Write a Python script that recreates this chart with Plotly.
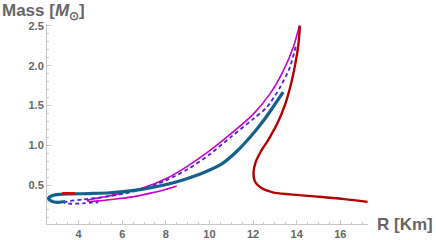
import plotly.graph_objects as go

# ---- data ----
red_R = [14.15, 14.07, 13.92, 13.72, 13.45, 13.12, 12.72, 12.35, 12.12, 12.02, 12.08, 12.35, 12.90, 13.70, 15.00, 16.20, 17.25]
red_M = [2.50, 2.25, 2.00, 1.75, 1.50, 1.28, 1.08, 0.92, 0.79, 0.66, 0.55, 0.47, 0.41, 0.385, 0.355, 0.325, 0.29]

red2_R = [3.23, 3.84]
red2_M = [0.398, 0.398]

blue_R = [13.38, 12.88, 12.42, 11.87, 11.27, 10.58, 9.80, 8.89, 7.97, 6.82, 5.44, 4.50, 3.70, 3.10, 2.80, 2.62, 2.75, 3.05, 3.40]
blue_M = [1.668, 1.467, 1.29, 1.105, 0.93, 0.77, 0.665, 0.575, 0.505, 0.445, 0.405, 0.395, 0.39, 0.385, 0.37, 0.335, 0.30, 0.285, 0.295]

mag_R = [14.13, 13.85, 13.39, 12.78, 12.00, 11.00, 10.00, 9.00, 8.00, 7.00, 6.00, 5.20, 4.70, 4.40, 4.45, 5.00, 5.80, 6.60, 7.30, 7.90, 8.50]
mag_M = [2.51, 2.24, 1.94, 1.65, 1.39, 1.15, 0.93, 0.74, 0.58, 0.47, 0.40, 0.355, 0.33, 0.31, 0.298, 0.305, 0.33, 0.36, 0.40, 0.44, 0.49]

dash_R = [13.95, 13.70, 13.24, 12.63, 12.00, 11.00, 10.00, 9.00, 8.00, 7.00, 6.00, 5.00, 4.20, 3.60, 3.35, 3.55, 4.20, 4.90]
dash_M = [2.24, 1.99, 1.73, 1.48, 1.33, 1.11, 0.885, 0.70, 0.56, 0.455, 0.39, 0.345, 0.32, 0.30, 0.28, 0.268, 0.272, 0.285]

x_ticks = [4, 6, 8, 10, 12, 14, 16]
y_ticks = [0.5, 1.0, 1.5, 2.0, 2.5]
y_tick_text = ["0.5", "1.0", "1.5", "2.0", "2.5"]

fig = go.Figure()
fig.add_trace(go.Scatter(x=mag_R, y=mag_M, mode="lines",
                         line=dict(color="#c800c8", width=1.6, shape="spline", smoothing=0.8)))
fig.add_trace(go.Scatter(x=dash_R, y=dash_M, mode="lines",
                         line=dict(color="#5020dc", width=1.8, dash="4px,3px", shape="spline", smoothing=0.8)))
fig.add_trace(go.Scatter(x=blue_R, y=blue_M, mode="lines",
                         line=dict(color="#13608a", width=3.2, shape="spline", smoothing=0.8)))
fig.add_trace(go.Scatter(x=red_R, y=red_M, mode="lines",
                         line=dict(color="#b40000", width=2.4, shape="spline", smoothing=0.8)))
fig.add_trace(go.Scatter(x=red2_R, y=red2_M, mode="lines",
                         line=dict(color="#e00000", width=2.6)))

W, H = 436, 240
L, R, T, B = 47, 68, 24, 16
pw, ph = W - L - R, H - T - B

def px_x(p):
    return (p - L) / pw

def px_y(p):
    return (H - B - p) / ph

axis_col = "#c8c8c8"
tick_font = dict(family="Liberation Sans, Arial", size=11, color="#666666", weight="bold")

fig.update_layout(
    width=W, height=H,
    margin=dict(l=L, r=R, t=T, b=B, autoexpand=False),
    paper_bgcolor="white", plot_bgcolor="white",
    showlegend=False,
    xaxis=dict(range=[2.55, 17.27], showgrid=False, zeroline=False, automargin=False,
               showline=True, linecolor=axis_col, linewidth=1,
               ticks="inside", ticklen=4, tickcolor=axis_col,
               tickvals=x_ticks, tickfont=tick_font,
               minor=dict(dtick=0.5, ticks="inside", ticklen=2, tickcolor=axis_col, showgrid=False)),
    yaxis=dict(range=[0.0125, 2.525], showgrid=False, zeroline=False, automargin=False,
               showline=True, linecolor=axis_col, linewidth=1,
               ticks="inside", ticklen=4, tickcolor=axis_col,
               tickvals=y_ticks, ticktext=y_tick_text, tickfont=tick_font,
               minor=dict(dtick=0.1, ticks="inside", ticklen=2, tickcolor=axis_col, showgrid=False)),
    annotations=[
        dict(text="<b>Mass [<i>M</i><sub>⊙</sub>]</b>", xref="paper", yref="paper",
             x=px_x(0), y=px_y(12), xanchor="left", yanchor="middle", showarrow=False,
             font=dict(family="Liberation Sans, Arial", size=17, color="#666666")),
        dict(text="<b>R [Km]</b>", xref="paper", yref="paper",
             x=px_x(435), y=px_y(224), xanchor="right", yanchor="middle", showarrow=False,
             font=dict(family="Liberation Sans, Arial", size=17, color="#666666")),
    ],
)

fig.write_html("out.html", config={"displayModeBar": False},
               post_script="document.body.style.margin='0';document.body.style.overflow='hidden';")
